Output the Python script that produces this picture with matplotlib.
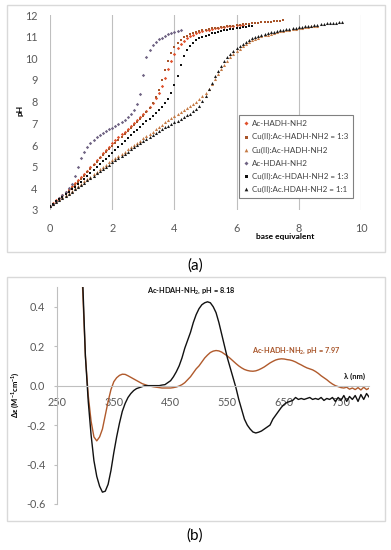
import numpy as np
import matplotlib
matplotlib.use("Agg")
import matplotlib.pyplot as plt
from matplotlib.patches import Rectangle

plt.rcParams['font.family'] = ['Lato', 'DejaVu Sans']
plt.rcParams['axes.unicode_minus'] = False
plt.rcParams['mathtext.default'] = 'regular'

# ---- panel (a): potentiometric titrations, pH vs base equivalents (step 0.1)
base_step = 0.1
ph_hadh = [3.20, 3.32, 3.44, 3.57, 3.70, 3.83, 3.96, 4.10, 4.24, 4.38,
           4.52, 4.67, 4.82, 4.98, 5.14, 5.30, 5.46, 5.62, 5.78, 5.93,
           6.07, 6.21, 6.35, 6.49, 6.62, 6.75, 6.88, 7.01, 7.15, 7.29,
           7.43, 7.58, 7.75, 7.94, 8.16, 8.42, 8.72, 9.08, 9.50, 9.90,
           10.22, 10.48, 10.67, 10.82, 10.93, 11.02, 11.09, 11.15, 11.20, 11.25,
           11.29, 11.32, 11.35, 11.38, 11.41, 11.43, 11.45, 11.47, 11.49, 11.51,
           11.52, 11.54, 11.55]
ph_cu_hadh_13 = [3.20, 3.30, 3.41, 3.53, 3.65, 3.77, 3.90, 4.03, 4.16, 4.30,
                 4.44, 4.59, 4.74, 4.90, 5.06, 5.22, 5.38, 5.53, 5.68, 5.82,
                 5.96, 6.10, 6.24, 6.38, 6.52, 6.66, 6.80, 6.94, 7.08, 7.22,
                 7.36, 7.52, 7.70, 7.92, 8.20, 8.55, 8.98, 9.45, 9.90, 10.25,
                 10.52, 10.72, 10.86, 10.97, 11.05, 11.12, 11.17, 11.22, 11.26, 11.30,
                 11.33, 11.36, 11.38, 11.40, 11.42, 11.44, 11.46, 11.48, 11.49, 11.51,
                 11.53, 11.55, 11.57, 11.58, 11.60, 11.61, 11.63, 11.64, 11.66, 11.67,
                 11.68, 11.70, 11.71, 11.72, 11.73, 11.75]
ph_cu_hadh = [3.20, 3.30, 3.40, 3.50, 3.60, 3.70, 3.80, 3.90, 4.00, 4.10,
              4.21, 4.32, 4.43, 4.54, 4.65, 4.76, 4.87, 4.98, 5.09, 5.20,
              5.30, 5.40, 5.50, 5.60, 5.70, 5.80, 5.90, 6.00, 6.10, 6.20,
              6.31, 6.41, 6.52, 6.62, 6.73, 6.83, 6.94, 7.04, 7.15, 7.25,
              7.35, 7.44, 7.53, 7.62, 7.71, 7.80, 7.90, 8.00, 8.11, 8.24,
              8.40, 8.60, 8.82, 9.05, 9.28, 9.50, 9.70, 9.88, 10.04, 10.19,
              10.33, 10.45, 10.56, 10.66, 10.75, 10.83, 10.90, 10.96, 11.01, 11.06,
              11.10, 11.14, 11.18, 11.21, 11.24, 11.27, 11.30, 11.32, 11.35, 11.37,
              11.39, 11.41, 11.43, 11.45, 11.47, 11.49, 11.51]
ph_hdah = [3.20, 3.30, 3.42, 3.55, 3.68, 3.82, 4.00, 4.22, 4.55, 5.00,
           5.40, 5.70, 5.92, 6.10, 6.25, 6.38, 6.48, 6.57, 6.65, 6.72,
           6.80, 6.88, 6.96, 7.05, 7.15, 7.27, 7.42, 7.62, 7.90, 8.35,
           9.25, 10.05, 10.40, 10.60, 10.75, 10.87, 10.96, 11.04, 11.11, 11.17,
           11.22, 11.26, 11.30]
ph_cu_hdah_13 = [3.20, 3.30, 3.40, 3.50, 3.61, 3.72, 3.83, 3.95, 4.07, 4.19,
                 4.31, 4.44, 4.57, 4.70, 4.84, 4.98, 5.11, 5.24, 5.37, 5.50,
                 5.63, 5.77, 5.91, 6.05, 6.19, 6.32, 6.45, 6.58, 6.71, 6.84,
                 6.97, 7.09, 7.21, 7.33, 7.46, 7.60, 7.75, 7.92, 8.12, 8.40,
                 8.75, 9.20, 9.70, 10.10, 10.38, 10.58, 10.72, 10.83, 10.92, 10.99,
                 11.05, 11.10, 11.15, 11.19, 11.23, 11.26, 11.29, 11.32, 11.35, 11.37,
                 11.40, 11.42, 11.44, 11.46, 11.48, 11.50]
ph_cu_hdah_11 = [3.20, 3.29, 3.38, 3.47, 3.56, 3.65, 3.75, 3.85, 3.95, 4.05,
                 4.15, 4.26, 4.37, 4.48, 4.59, 4.70, 4.80, 4.90, 5.00, 5.10,
                 5.20, 5.30, 5.40, 5.50, 5.60, 5.70, 5.80, 5.90, 6.00, 6.10,
                 6.20, 6.29, 6.38, 6.47, 6.56, 6.65, 6.73, 6.81, 6.89, 6.97,
                 7.05, 7.13, 7.21, 7.29, 7.37, 7.45, 7.55, 7.67, 7.82, 8.02,
                 8.28, 8.58, 8.88, 9.17, 9.43, 9.66, 9.86, 10.04, 10.20, 10.34,
                 10.47, 10.58, 10.68, 10.77, 10.85, 10.92, 10.98, 11.03, 11.08, 11.12,
                 11.16, 11.20, 11.23, 11.26, 11.29, 11.32, 11.34, 11.37, 11.39, 11.41,
                 11.43, 11.45, 11.47, 11.49, 11.51, 11.53, 11.55, 11.57, 11.59, 11.61,
                 11.62, 11.64, 11.65, 11.67, 11.68]

series_labels = ['Ac-HADH-NH2', 'Cu(II):Ac-HADH-NH2 = 1:3', 'Cu(II):Ac-HADH-NH2',
                 'Ac-HDAH-NH2', 'Cu(II):Ac-HDAH-NH2 = 1:3', 'Cu(II):Ac.HDAH-NH2 = 1:1']

# ---- panel (b): CD spectra, 5 nm steps from 290 to 800 nm
wavelength = np.arange(290, 801, 5)
cd_hdah = [1.00, 0.55, 0.15, -0.08, -0.25, -0.38, -0.46, -0.51, -0.54, -0.535,
           -0.50, -0.43, -0.34, -0.26, -0.19, -0.13, -0.09, -0.06, -0.04, -0.025,
           -0.015, -0.01, -0.005, 0.0, 0.0, 0.0, 0.0, 0.0, 0.0, 0.003,
           0.005, 0.015, 0.025, 0.045, 0.07, 0.10, 0.14, 0.19, 0.23, 0.27,
           0.32, 0.36, 0.39, 0.41, 0.42, 0.425, 0.42, 0.40, 0.37, 0.32,
           0.26, 0.20, 0.14, 0.09, 0.04, -0.01, -0.07, -0.12, -0.17, -0.20,
           -0.22, -0.235, -0.24, -0.236, -0.23, -0.22, -0.21, -0.20, -0.17, -0.15,
           -0.13, -0.11, -0.095, -0.085, -0.08, -0.075, -0.06, -0.07, -0.065, -0.07,
           -0.065, -0.06, -0.07, -0.065, -0.07, -0.06, -0.075, -0.065, -0.07, -0.06,
           -0.08, -0.06, -0.075, -0.05, -0.08, -0.055, -0.07, -0.05, -0.08, -0.045,
           -0.07, -0.04, -0.06]
cd_hadh = [1.00, 0.50, 0.15, -0.05, -0.18, -0.26, -0.28, -0.26, -0.22, -0.15,
           -0.08, -0.02, 0.02, 0.04, 0.052, 0.058, 0.057, 0.05, 0.042, 0.034,
           0.026, 0.018, 0.01, 0.005, 0.0, -0.003, -0.006, -0.008, -0.01, -0.012,
           -0.012, -0.012, -0.012, -0.01, -0.007, -0.002, 0.005, 0.015, 0.03, 0.045,
           0.065, 0.085, 0.10, 0.12, 0.14, 0.155, 0.168, 0.175, 0.178, 0.176,
           0.17, 0.16, 0.15, 0.138, 0.125, 0.112, 0.10, 0.09, 0.082, 0.077,
           0.074, 0.073, 0.075, 0.08, 0.087, 0.095, 0.105, 0.115, 0.123, 0.13,
           0.134, 0.136, 0.135, 0.132, 0.13, 0.126, 0.12, 0.112, 0.105, 0.097,
           0.09, 0.085, 0.08, 0.072, 0.062, 0.05, 0.04, 0.03, 0.018, 0.008,
           0.0, -0.005, -0.01, -0.012, -0.008, -0.018, -0.012, -0.02, -0.01, -0.022,
           -0.008, -0.02, -0.012]

W, H = 391, 550
fig = plt.figure(figsize=(W / 100, H / 100), dpi=100)

# panel frames
for top, bot in [(5, 252), (277, 521)]:
    fig.add_artist(Rectangle((7 / W, 1 - bot / H), 378 / W, (bot - top) / H,
                             transform=fig.transFigure, fill=False,
                             ec='#D9D9D9', lw=1.0))

tick_color = '#595959'

# ---------------- (a)
ax1 = fig.add_axes([50 / W, 1 - 210 / H, 311 / W, 195 / H])
styles = [('D', '#E0502B', 1.7), ('s', '#A8552A', 1.8), ('^', '#C47A45', 2.2),
          ('D', '#6F6383', 1.7), ('s', '#111111', 1.8), ('^', '#1A1A1A', 2.2)]
all_ph = [ph_hadh, ph_cu_hadh_13, ph_cu_hadh, ph_hdah, ph_cu_hdah_13, ph_cu_hdah_11]
for ph, lab, (mk, col, ms) in zip(all_ph, series_labels, styles):
    x = np.arange(len(ph)) * base_step
    ax1.plot(x, ph, linestyle='none', marker=mk, color=col, ms=ms,
             mec=col, mew=0, label=lab)

ax1.set_xlim(0, 10)
ax1.set_ylim(3, 12)
ax1.set_xticks(range(0, 11, 2))
ax1.set_yticks(range(3, 13))
ax1.xaxis.grid(True, color='#BFBFBF', lw=0.8)
ax1.set_axisbelow(True)
for s in ax1.spines.values():
    s.set_visible(False)
ax1.tick_params(length=0, labelsize=7.8, colors=tick_color)
ax1.tick_params(axis='y', pad=9)
ax1.tick_params(axis='x', pad=9)

leg = ax1.legend(loc='lower right', bbox_to_anchor=(0.987, 0.041), fontsize=5.8,
                 fancybox=False, edgecolor='#808080', framealpha=1,
                 handlelength=0.5, handletextpad=0.5, labelspacing=0.75,
                 borderpad=0.6, markerscale=1.2)
leg.get_frame().set_linewidth(0.8)
for t in leg.get_texts():
    t.set_color('#404040')

fig.text(20 / W, 1 - 110 / H, 'pH', rotation=90, ha='center', va='center',
         fontsize=6, fontweight='bold')
fig.text(285 / W, 1 - 237 / H, 'base equivalent', ha='center', va='center',
         fontsize=6, fontweight='bold')
fig.text(195 / W, 1 - 266 / H, '(a)', ha='center', va='center', fontsize=11)

# ---------------- (b)
ax2 = fig.add_axes([57 / W, 1 - 504 / H, 312.4 / W, 217 / H])
ax2.plot(wavelength, cd_hadh, color='#B05A2C', lw=1.0)
ax2.plot(wavelength, cd_hdah, color='#111111', lw=1.0)
ax2.set_xlim(250, 800)
ax2.set_ylim(-0.6, 0.5)
ax2.spines['bottom'].set_position(('data', 0))
ax2.spines['top'].set_visible(False)
ax2.spines['right'].set_visible(False)
ax2.spines['bottom'].set_color('#BFBFBF')
ax2.spines['left'].set_color('#BFBFBF')
ax2.set_xticks(range(250, 751, 100))
ax2.set_yticks([-0.6, -0.4, -0.2, 0.0, 0.2, 0.4])
ax2.set_yticklabels(['-0.6', '-0.4', '-0.2', '0.0', '0.2', '0.4'])
ax2.tick_params(axis='x', length=0, pad=8, labelsize=7.8, colors=tick_color)
ax2.tick_params(axis='y', length=2.5, width=0.8, direction='out', pad=6,
                labelsize=7.8, colors='#BFBFBF', labelcolor=tick_color)

ax2.text(487, 0.48, 'Ac-HDAH-NH$_2$, pH = 8.18', ha='center', va='center',
         fontsize=5.3, fontweight='bold', color='#111111')
ax2.text(672, 0.178, 'Ac-HADH-NH$_2$, pH = 7.97', ha='center', va='center',
         fontsize=5.3, fontweight='bold', color='#A8552A')
ax2.text(773, 0.045, 'λ (nm)', ha='center', va='center',
         fontsize=5.5, fontweight='bold', color='#111111')

fig.text(15 / W, 1 - 395 / H, 'Δε (M$^{-1}$cm$^{-1}$)', rotation=90,
         ha='center', va='center', fontsize=5.5, fontweight='bold')
fig.text(195 / W, 1 - 536 / H, '(b)', ha='center', va='center', fontsize=11)

fig.savefig('out.png', dpi=100)
